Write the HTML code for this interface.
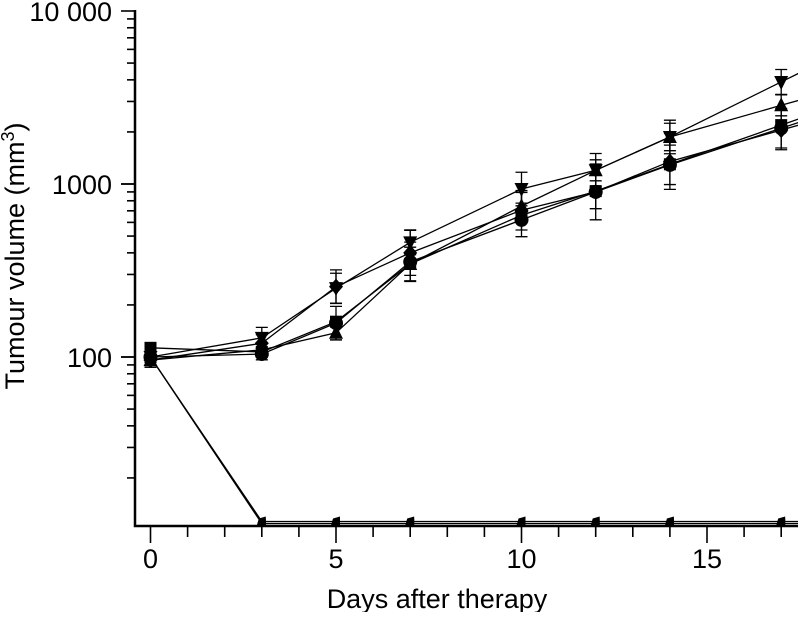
<!DOCTYPE html>
<html><head><meta charset="utf-8"><style>
body{margin:0;background:#fff}
svg text{font-family:"Liberation Sans",Arial,sans-serif;fill:#000}
</style></head><body>
<svg id="c" width="798" height="612" viewBox="0 0 798 612">
<defs><clipPath id="clip"><rect x="136" y="0" width="662" height="525"/></clipPath></defs>
<g id="plot" clip-path="url(#clip)"></g>
<g id="axes"></g>
</svg>
<script>
const days=[0,3,5,7,10,12,14,17];
const sSquare=[113,107,160,345,660,910,1300,2190];
const sCircle=[100,104,157,355,620,900,1290,2100];
const sUp=[96,110,138,345,745,1200,1870,2850];
const sDown=[100,129,250,460,935,1200,1870,3890];
const sDiamond=[96,120,255,400,705,900,1350,2050];
const sCured1=[100,11.2,11.2,11.2,11.2,11.2,11.2,11.2];
const sCured2=[100,10.9,10.9,10.9,10.9,10.9,10.9,10.9];
const errDown=[0.12,0.15,0.22,0.18,0.25,0.25,0.25,0.18];
const errUp=[0.1,0.1,0.1,0.25,0.2,0.15,0.2,0.15];
const errDiamond=[0.1,0.12,0.25,0.35,0.3,0.45,0.45,0.3];
const errCircle=[0.1,0.08,0.25,0.3,0.25,0.25,0.3,0.3];
const xTicks=[0,5,10,15];
const yTicks=[100,1000,10000];
const yTickLabels=["100","1000","10 000"];

const NS="http://www.w3.org/2000/svg";
const X=d=>150.5+37.1*d;
const Y=v=>357-173*(Math.log10(v)-2);
const plot=document.getElementById('plot'),axes=document.getElementById('axes');
function mk(tag,attrs,parent){const e=document.createElementNS(NS,tag);for(const k in attrs)e.setAttribute(k,attrs[k]);parent.appendChild(e);return e;}

const series=[
 {n:'cured-a',v:sCured1,m:'sm',e:null},
 {n:'cured-b',v:sCured2,m:'sm',e:null},
 {n:'square',v:sSquare,m:'sq',e:null},
 {n:'circle',v:sCircle,m:'ci',e:errCircle},
 {n:'triangle-up',v:sUp,m:'up',e:errUp},
 {n:'triangle-down',v:sDown,m:'dn',e:errDown},
 {n:'diamond',v:sDiamond,m:'di',e:errDiamond}
];
series.forEach(s=>{
  const pts=days.map((d,i)=>[X(d),Y(s.v[i])]);
  const n=pts.length;
  const sl=(pts[n-1][1]-pts[n-2][1])/(pts[n-1][0]-pts[n-2][0]);
  const ex=pts[n-1][0]+40;pts.push([ex,pts[n-1][1]+sl*40]);
  const pl=mk('polyline',{points:pts.map(p=>p.join(',')).join(' '),fill:'none',stroke:'#000','stroke-width':1.3},plot);
  
  
  days.forEach((d,i)=>{
    const x=X(d),y=Y(s.v[i]);
    if(s.e){
      const f=1+s.e[i];
      const y1=Y(s.v[i]*f),y2=Y(s.v[i]/f);
      const eb=mk('path',{d:`M${x},${y1}V${y2}M${x-6},${y1}H${x+6}M${x-6},${y2}H${x+6}`,stroke:'#000','stroke-width':1.3,fill:'none'},plot);
      
      
    }
    let m;
    if(s.m==='sm'){m=i===0?mk('rect',{x:x-6,y:y-6,width:12,height:12},plot):mk('path',{d:`M${x-5},${y+4}L${x-3},${y-3}L${x+4},${y-5}L${x+4},${y+4}Z`},plot);}
    else if(s.m==='sq'){m=mk('rect',{x:x-6,y:y-6,width:12,height:12},plot);}
    else if(s.m==='ci'){m=mk('circle',{cx:x,cy:y,r:7},plot);}
    else if(s.m==='up'){m=mk('path',{d:`M${x},${y-8}L${x+7},${y+6}L${x-7},${y+6}Z`},plot);}
    else if(s.m==='dn'){m=mk('path',{d:`M${x},${y+8}L${x+7},${y-6}L${x-7},${y-6}Z`},plot);}
    else {m=mk('path',{d:`M${x},${y-8}L${x+7},${y}L${x},${y+8}L${x-7},${y}Z`},plot);}
    m.setAttribute('fill','#000');
    
    
  });
});

const ax=mk('path',{d:'M135,10V526H798',stroke:'#000','stroke-width':2.5,fill:'none'},axes);


for(let d=0;d<=17;d++){
  const t=mk('line',{x1:X(d),x2:X(d),y1:527,y2:d%5===0?543:537,stroke:'#000','stroke-width':1.6},axes);
  
  
}
xTicks.forEach(d=>{
  const t=mk('text',{x:X(d),y:568,'text-anchor':'middle','font-size':27},axes);t.textContent=d;
  
  
});
for(let dec=10;dec<10000;dec*=10){for(let k=1;k<=10;k++){const v=dec*k;if(v<10.54)continue;
  const y=Y(v);const major=yTicks.includes(v);
  const t=mk('line',{x1:major?121:127,x2:135,y1:y,y2:y,stroke:'#000','stroke-width':1.6},axes);
  
  }}
yTicks.forEach((v,i)=>{
  const t=mk('text',{x:112,y:Y(v)+10,'text-anchor':'end','font-size':27},axes);t.textContent=yTickLabels[i];
  
  
});
const xt=mk('text',{x:437,y:608,'text-anchor':'middle','font-size':27},axes);xt.textContent='Days after therapy';


const yt=mk('text',{x:0,y:0,'text-anchor':'middle','font-size':27,transform:'translate(24,256) rotate(-90)'},axes);
yt.innerHTML='Tumour volume (mm<tspan dy="-10" font-size="18">3</tspan><tspan dy="10">)</tspan>';


</script>
</body></html>
